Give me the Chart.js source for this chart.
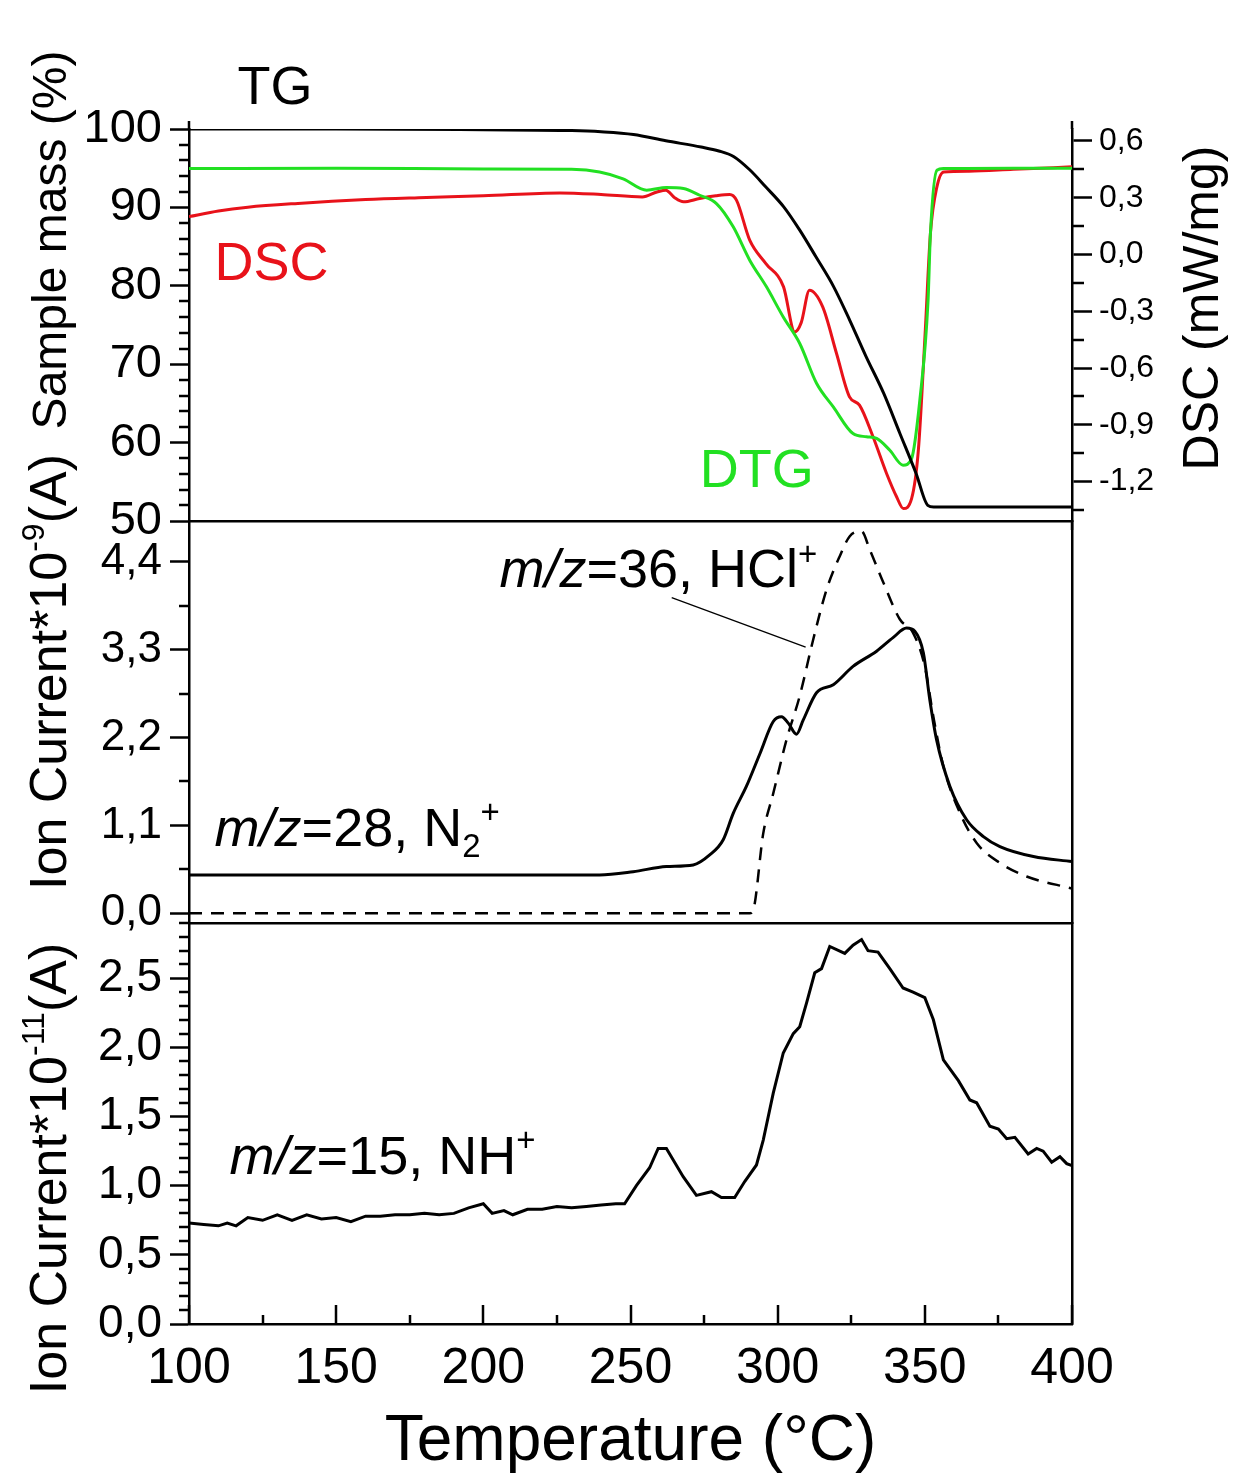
<!DOCTYPE html>
<html>
<head>
<meta charset="utf-8">
<title>TG / DSC / MS</title>
<script src="https://cdn.jsdelivr.net/npm/chart.js@4.4.0/dist/chart.umd.min.js"></script>
<style>
  body { margin: 0; background: #fff; }
  #wrap { position: relative; width: 1235px; height: 1473px; background: #fff; }
  #wrap canvas { position: absolute; left: 0; top: 0; }
</style>
</head>
<body>
<div id="wrap">
  <canvas id="tgChart" width="1235" height="1473"></canvas>
  <canvas id="ms28Chart" width="1235" height="1473"></canvas>
  <canvas id="ms15Chart" width="1235" height="1473"></canvas>
</div>
<script>
// ---- data ----
const tempTicks = [100, 150, 200, 250, 300, 350, 400];
const massTicks = [50, 60, 70, 80, 90, 100];
const dscTicks = [-1.2, -0.9, -0.6, -0.3, 0.0, 0.3, 0.6];
const ion9Ticks = [0.0, 1.1, 2.2, 3.3, 4.4];
const ion11Ticks = [0.0, 0.5, 1.0, 1.5, 2.0, 2.5];

// TG (sample mass, %)
const tgTemp = [100, 150, 200, 230, 240, 251, 262, 274, 280, 285, 290.5, 296, 302, 307.5, 313, 319, 324.5, 330, 336, 341.5, 347, 351, 353, 370, 400];
const tgMass = [100, 100, 99.9, 99.8, 99.65, 99.3, 98.5, 97.7, 97.2, 96.5, 94.8, 92.6, 90.1, 87.1, 83.7, 79.9, 75.6, 71.0, 66.3, 61.2, 56.1, 52.0, 51.8, 51.8, 51.8];

// DSC (mW/mg)
const dscTemp = [100, 110, 120, 137, 160, 178, 200, 226, 240, 254, 259, 262, 265, 268, 273.5, 279, 283.7, 286, 290.5, 296, 302, 305.8, 308, 310.8, 315.3, 320, 324.4, 327.8, 332.4, 337, 340.4, 342.7, 345.5, 347.8, 350.1, 351.9, 354.1, 356.4, 365, 380, 400];
const dscValue = [0.20, 0.23, 0.25, 0.27, 0.29, 0.30, 0.31, 0.325, 0.317, 0.304, 0.33, 0.34, 0.30, 0.278, 0.296, 0.31, 0.317, 0.287, 0.076, -0.048, -0.171, -0.409, -0.36, -0.189, -0.277, -0.523, -0.752, -0.796, -0.963, -1.157, -1.28, -1.342, -1.29, -1.034, -0.417, 0.111, 0.357, 0.436, 0.44, 0.45, 0.463];

// DTG (drawn against the DSC axis)
const dtgTemp = [100, 150, 200, 230, 239.5, 247.5, 255.5, 262.2, 268, 273.5, 279.2, 284.9, 290.5, 296.2, 301.9, 307.5, 313.2, 318.9, 325.6, 330.2, 333.6, 338.1, 342.6, 345.5, 348.3, 351.1, 351.9, 354.1, 356.4, 380, 400];
const dtgValue = [0.454, 0.456, 0.452, 0.45, 0.436, 0.40, 0.34, 0.354, 0.349, 0.313, 0.269, 0.146, -0.03, -0.171, -0.33, -0.47, -0.68, -0.805, -0.946, -0.963, -0.972, -1.034, -1.113, -1.078, -0.77, -0.241, 0.111, 0.445, 0.454, 0.456, 0.455];

// m/z=28 (ion current *1e-9 A)
const ms28Temp = [100, 150, 200, 239.5, 250.9, 262.2, 271.3, 276.9, 281.5, 284.9, 289.4, 294, 298.5, 301.3, 303.6, 306.4, 308.7, 313.2, 318.9, 325.6, 333.6, 339.2, 343.8, 346.6, 349.5, 351.7, 354, 358.5, 364.2, 369.9, 375.5, 386.9, 400];
const ms28Value = [0.48, 0.48, 0.48, 0.48, 0.52, 0.585, 0.605, 0.73, 0.92, 1.25, 1.59, 2.0, 2.40, 2.46, 2.38, 2.24, 2.42, 2.76, 2.86, 3.09, 3.28, 3.45, 3.57, 3.53, 3.26, 2.67, 2.17, 1.59, 1.17, 0.96, 0.835, 0.71, 0.647];

// m/z=36 (ion current *1e-9 A)
const ms36Temp = [100, 200, 290.5, 291.7, 295.1, 298.5, 303, 307.5, 312.1, 316.6, 321.1, 324.5, 328.5, 331.3, 335.9, 341.5, 346, 350, 352.9, 356.3, 362, 367.6, 375.5, 384.6, 400];
const ms36Value = [0, 0, 0, 0.04, 1.0, 1.5, 2.17, 2.72, 3.43, 4.05, 4.47, 4.72, 4.78, 4.55, 4.14, 3.68, 3.51, 3.09, 2.46, 1.84, 1.25, 0.88, 0.63, 0.46, 0.31];

// m/z=15 (ion current *1e-11 A)
const ms15Temp = [100, 105, 110, 113, 116, 120, 125, 130, 135, 140, 145, 150, 155, 160, 165, 170, 175, 180, 185, 190, 195, 200, 203, 207, 210, 215, 220, 225, 230, 235, 240, 245, 248, 252, 256.5, 259.4, 262.2, 267.9, 272.4, 277.5, 280.9, 285.4, 288.8, 292.8, 295.1, 298.5, 301.9, 305.3, 307.5, 309.8, 312.6, 314.9, 317.7, 322.8, 325.6, 328.5, 330.7, 334.1, 338.1, 342.6, 346, 350, 352.9, 356.3, 361.4, 365.3, 367.6, 372.1, 375, 377.8, 380.6, 385.1, 388, 390.2, 393.1, 395.9, 398.2, 400];
const ms15Value = [0.73, 0.72, 0.71, 0.73, 0.71, 0.77, 0.75, 0.79, 0.75, 0.79, 0.76, 0.77, 0.74, 0.78, 0.78, 0.79, 0.79, 0.80, 0.79, 0.80, 0.84, 0.87, 0.80, 0.82, 0.79, 0.83, 0.83, 0.85, 0.84, 0.85, 0.86, 0.87, 0.87, 1.0, 1.13, 1.27, 1.27, 1.065, 0.93, 0.957, 0.915, 0.915, 1.03, 1.15, 1.33, 1.67, 1.96, 2.10, 2.15, 2.32, 2.54, 2.57, 2.73, 2.68, 2.74, 2.78, 2.70, 2.69, 2.57, 2.43, 2.40, 2.36, 2.20, 1.91, 1.76, 1.62, 1.60, 1.43, 1.41, 1.34, 1.35, 1.23, 1.27, 1.25, 1.17, 1.21, 1.16, 1.145];

const FONT = '"Liberation Sans", Arial, Helvetica, sans-serif';
const RED = '#e8121a';
const GREEN = '#22e022';

Chart.defaults.font.family = FONT;
Chart.defaults.color = '#000';

function pts(xs, ys) {
    return xs.map((x, i) => ({ x: x, y: ys[i] }));
}

function fmtComma(v) {
    return v.toFixed(1).replace('.', ',');
}

// text with italic / superscript / subscript pieces
function drawRich(ctx, parts, x, y, size, align, angle) {
    ctx.save();
    ctx.translate(x, y);
    if (angle) ctx.rotate(angle);
    const fontFor = p => (p.italic ? 'italic ' : '') + Math.round(p.sup || p.sub ? size * 0.62 : size) + 'px ' + FONT;
    let total = 0;
    parts.forEach(p => {
        ctx.font = fontFor(p);
        p.w = ctx.measureText(p.t).width;
        total += p.w;
    });
    let cx = align === 'center' ? -total / 2 : 0;
    ctx.textAlign = 'left';
    ctx.textBaseline = 'alphabetic';
    parts.forEach(p => {
        ctx.font = fontFor(p);
        ctx.fillStyle = p.color || '#000';
        let dy = 0;
        if (p.sup) dy = -size * 0.42;
        if (p.sub) dy = size * 0.2;
        ctx.fillText(p.t, cx, dy);
        cx += p.w;
    });
    ctx.restore();
}

// short ticks between the labelled ones
function yMinor(ctx, scale, step, major, len, side) {
    const a = scale.chart.chartArea;
    const start = Math.ceil(scale.min / step - 1e-6);
    const end = Math.floor(scale.max / step + 1e-6);
    for (let i = start; i <= end; i++) {
        const v = i * step;
        const r = v / major;
        if (Math.abs(r - Math.round(r)) < 1e-6) continue;
        const py = Math.round(scale.getPixelForValue(v));
        if (side === 'left') {
            ctx.moveTo(a.left - len, py);
            ctx.lineTo(a.left, py);
        } else {
            ctx.moveTo(a.right, py);
            ctx.lineTo(a.right + len, py);
        }
    }
}

function decor(draw) {
    return {
        id: 'decor',
        afterDatasetsDraw(chart) {
            const ctx = chart.ctx;
            ctx.save();
            draw(chart, ctx);
            ctx.restore();
        }
    };
}

function leftAxis(min, max, ticks, fmt, size) {
    return {
        position: 'left',
        min: min,
        max: max,
        afterBuildTicks: s => { s.ticks = ticks.map(v => ({ value: v })); },
        afterFit: s => { s.width = 189; },
        ticks: { font: { size: size }, color: '#000', padding: 8, callback: fmt },
        grid: { drawOnChartArea: false, tickLength: 19, tickWidth: 2.5, tickColor: '#000' },
        border: { color: '#000', width: 2.5 }
    };
}

function plainX(h, showLabels) {
    return {
        type: 'linear',
        position: 'bottom',
        min: 100,
        max: 400,
        afterBuildTicks: s => { s.ticks = tempTicks.map(v => ({ value: v })); },
        afterFit: s => { s.height = h; },
        ticks: { display: showLabels, font: { size: 50 }, color: '#000', padding: 15, maxRotation: 0, callback: v => String(v) },
        grid: { display: false, drawTicks: false },
        border: { display: true, color: '#000', width: 2.5 }
    };
}

function plainRight() {
    return {
        position: 'right',
        min: 0,
        max: 1,
        afterFit: s => { s.width = 163; },
        ticks: { display: false },
        grid: { display: false, drawTicks: false },
        border: { display: true, color: '#000', width: 2.5 }
    };
}

const common = {
    responsive: false,
    animation: false,
    events: [],
    plugins: { legend: { display: false }, tooltip: { enabled: false } },
    elements: { point: { radius: 0 } }
};

// ---- top panel: TG, DSC, DTG ----
new Chart(document.getElementById('tgChart'), {
    type: 'line',
    data: {
        datasets: [
            { label: 'TG', data: pts(tgTemp, tgMass), yAxisID: 'y', borderColor: '#000', borderWidth: 3, cubicInterpolationMode: 'monotone' },
            { label: 'DTG', data: pts(dtgTemp, dtgValue), yAxisID: 'yR', borderColor: GREEN, borderWidth: 3, cubicInterpolationMode: 'monotone' },
            { label: 'DSC', data: pts(dscTemp, dscValue), yAxisID: 'yR', borderColor: RED, borderWidth: 3, cubicInterpolationMode: 'monotone' }
        ]
    },
    options: Object.assign({}, common, {
        layout: { padding: { top: 129, bottom: 1473 - 521, left: 0, right: 0 } },
        scales: {
            x: plainX(0, false),
            y: leftAxis(50, 100, massTicks, v => String(v), 47),
            yR: {
                position: 'right',
                min: -1.408,
                max: 0.663,
                afterBuildTicks: s => { s.ticks = dscTicks.map(v => ({ value: v })); },
                afterFit: s => { s.width = 163; },
                ticks: { font: { size: 32 }, color: '#000', padding: 7, callback: fmtComma },
                grid: { drawOnChartArea: false, tickLength: 20, tickWidth: 2.5, tickColor: '#000' },
                border: { color: '#000', width: 2.5 }
            }
        }
    }),
    plugins: [decor((chart, ctx) => {
        const a = chart.chartArea;
        const xs = chart.scales.x, y = chart.scales.y, r = chart.scales.yR;
        ctx.strokeStyle = '#000';
        ctx.lineWidth = 2.5;
        ctx.beginPath();
        ctx.moveTo(a.left, a.top - 8); ctx.lineTo(a.left, a.top);
        ctx.moveTo(a.right, a.top - 8); ctx.lineTo(a.right, a.top);
        ctx.moveTo(a.right, a.bottom); ctx.lineTo(a.right, a.bottom + 9);
        yMinor(ctx, y, 2, 10, 10, 'left');
        yMinor(ctx, r, 0.15, 0.3, 12, 'right');
        ctx.stroke();

        drawRich(ctx, [{ t: 'TG' }], xs.getPixelForValue(116.5), y.getPixelForValue(103.2), 54);
        drawRich(ctx, [{ t: 'DSC', color: RED }], xs.getPixelForValue(108.7), y.getPixelForValue(80.7), 54);
        drawRich(ctx, [{ t: 'DTG', color: GREEN }], xs.getPixelForValue(273.5), y.getPixelForValue(54.3), 54);

        drawRich(ctx, [{ t: 'Sample mass (%)' }], a.left - 123, (a.top + a.bottom) / 2 - 85, 48, 'center', -Math.PI / 2);
        drawRich(ctx, [{ t: 'DSC (mW/mg)' }], a.right + 146, (a.top + a.bottom) / 2 - 17, 50, 'center', -Math.PI / 2);
    })]
});

// ---- middle panel: m/z 28 and 36 ----
new Chart(document.getElementById('ms28Chart'), {
    type: 'line',
    data: {
        datasets: [
            { label: 'm/z=28', data: pts(ms28Temp, ms28Value), borderColor: '#000', borderWidth: 3, cubicInterpolationMode: 'monotone' },
            { label: 'm/z=36', data: pts(ms36Temp, ms36Value), borderColor: '#000', borderWidth: 2.5, borderDash: [13, 9], cubicInterpolationMode: 'monotone' }
        ]
    },
    options: Object.assign({}, common, {
        layout: { padding: { top: 521, bottom: 1473 - 923, left: 0, right: 0 } },
        scales: {
            x: plainX(0, false),
            y: leftAxis(-0.122, 4.91, ion9Ticks, fmtComma, 44),
            yR: plainRight()
        }
    }),
    plugins: [decor((chart, ctx) => {
        const a = chart.chartArea;
        const xs = chart.scales.x, y = chart.scales.y;
        ctx.strokeStyle = '#000';
        ctx.lineWidth = 2.5;
        ctx.beginPath();
        yMinor(ctx, y, 0.55, 1.1, 10, 'left');
        ctx.stroke();

        // leader line from the HCl label to the dashed curve
        ctx.lineWidth = 1.3;
        ctx.beginPath();
        ctx.moveTo(xs.getPixelForValue(264), y.getPixelForValue(3.95));
        ctx.lineTo(xs.getPixelForValue(309.5), y.getPixelForValue(3.33));
        ctx.stroke();

        drawRich(ctx, [{ t: 'm/z', italic: true }, { t: '=36, HCl' }, { t: '+', sup: true }],
            xs.getPixelForValue(205.5), y.getPixelForValue(4.08), 54);
        drawRich(ctx, [{ t: 'm/z', italic: true }, { t: '=28, N' }, { t: '2', sub: true }, { t: '+', sup: true }],
            xs.getPixelForValue(108.7), y.getPixelForValue(0.84), 54);

        drawRich(ctx, [{ t: 'Ion Current*10' }, { t: '-9', sup: true }, { t: '(A)' }],
            a.left - 123, (a.top + a.bottom) / 2 - 50, 52, 'center', -Math.PI / 2);
    })]
});

// ---- bottom panel: m/z 15 ----
new Chart(document.getElementById('ms15Chart'), {
    type: 'line',
    data: {
        datasets: [
            { label: 'm/z=15', data: pts(ms15Temp, ms15Value), borderColor: '#000', borderWidth: 3, tension: 0 }
        ]
    },
    options: Object.assign({}, common, {
        layout: { padding: { top: 923, bottom: 0, left: 0, right: 0 } },
        scales: {
            x: plainX(1473 - 1324, true),
            y: leftAxis(0, 2.9, ion11Ticks, fmtComma, 46),
            yR: plainRight()
        }
    }),
    plugins: [decor((chart, ctx) => {
        const a = chart.chartArea;
        const xs = chart.scales.x, y = chart.scales.y;
        ctx.strokeStyle = '#000';
        ctx.lineWidth = 2.5;
        ctx.beginPath();
        yMinor(ctx, y, 0.1, 0.5, 10, 'left');
        // inward ticks on the temperature axis
        for (let t = 100; t <= 400; t += 25) {
            const px = Math.round(xs.getPixelForValue(t));
            const len = tempTicks.includes(t) ? 19 : 9;
            ctx.moveTo(px, a.bottom);
            ctx.lineTo(px, a.bottom - len);
        }
        ctx.stroke();

        drawRich(ctx, [{ t: 'm/z', italic: true }, { t: '=15, NH' }, { t: '+', sup: true }],
            xs.getPixelForValue(113.8), y.getPixelForValue(1.085), 54);

        drawRich(ctx, [{ t: 'Ion Current*10' }, { t: '-11', sup: true }, { t: '(A)' }],
            a.left - 123, (a.top + a.bottom) / 2 + 45, 52, 'center', -Math.PI / 2);
        drawRich(ctx, [{ t: 'Temperature (°C)' }], (a.left + a.right) / 2, 1460, 64, 'center');
    })]
});
</script>
</body>
</html>
